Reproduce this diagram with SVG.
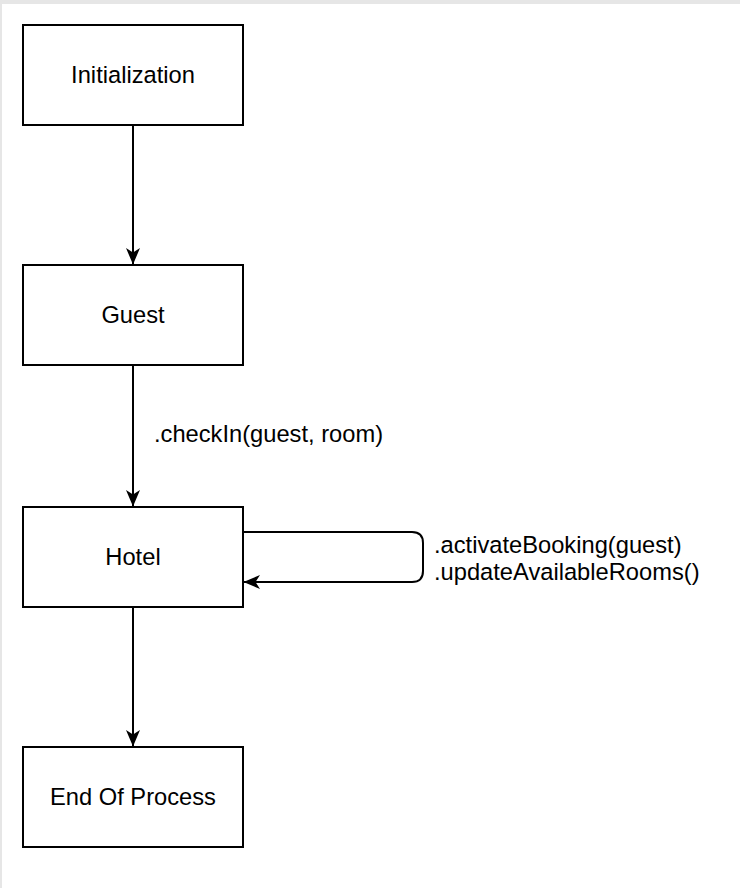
<svg xmlns="http://www.w3.org/2000/svg" width="740" height="888" viewBox="0 0 740 888">
<style>
.node rect{fill:#ffffff;stroke:#000000;stroke-width:2}
.lbl{font-family:"Liberation Sans",Arial,Helvetica,sans-serif;font-size:23.7px;fill:#000000}
.ctr{text-anchor:middle}
.edge{fill:none;stroke:#000000;stroke-width:2}
</style>
<defs>
<marker id="arr" viewBox="0 0 17 14" refX="16" refY="7" markerWidth="17" markerHeight="14" markerUnits="userSpaceOnUse" orient="auto">
<path d="M16.5,7 L0,0 L4.5,7 L0,14 Z" fill="#000000"/>
</marker>
</defs>
<rect x="0" y="0" width="740" height="888" fill="#e6e6e6"/>
<rect x="2" y="4" width="738" height="884" fill="#ffffff"/>
<g id="connectors">
<path class="edge" d="M133,125 L133,264" marker-end="url(#arr)"/>
<path class="edge" d="M133,365 L133,506" marker-end="url(#arr)"/>
<text class="lbl" x="154" y="442">.checkIn(guest, room)</text>
<path class="edge" d="M243,532 L412,532 Q423,532 423,543 L423,571 Q423,582 412,582 L244,582" marker-end="url(#arr)"/>
<text class="lbl" x="434" y="553">.activateBooking(guest)</text>
<text class="lbl" x="434" y="580">.updateAvailableRooms()</text>
<path class="edge" d="M133,607 L133,746" marker-end="url(#arr)"/>
</g>
<g id="initialization" class="node">
<rect x="23" y="25" width="220" height="100"/>
<text class="lbl ctr" x="133" y="83">Initialization</text>
</g>
<g id="guest" class="node">
<rect x="23" y="265" width="220" height="100"/>
<text class="lbl ctr" x="133" y="323">Guest</text>
</g>
<g id="hotel" class="node">
<rect x="23" y="507" width="220" height="100"/>
<text class="lbl ctr" x="133" y="565">Hotel</text>
</g>
<g id="end" class="node">
<rect x="23" y="747" width="220" height="100"/>
<text class="lbl ctr" x="133" y="805">End Of Process</text>
</g>
</svg>
